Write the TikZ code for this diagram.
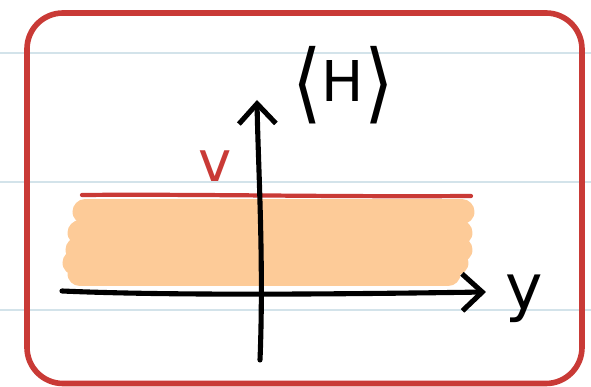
\documentclass[tikz,border=0pt]{standalone}
\usepackage{graphicx}
\usepackage{fontspec}
\setmainfont{DejaVu Sans}
\usetikzlibrary{arrows.meta}
\definecolor{cred}{HTML}{C93A36}
\definecolor{cpeach}{HTML}{FDCB98}
\definecolor{cline}{HTML}{D3E3EA}
\tikzset{>={Straight Barb[length=4mm,width=7.4mm]},
  pen/.style={line width=2.9pt,line cap=round,line join=round},
  marker/.style={cpeach,line width=0.5cm,line cap=round},
  ruled/.style={cline,line width=1.2pt}}
\newcommand{\bigbr}[1]{\raisebox{-0.18em}{\scalebox{1.35}[1.55]{#1}}}

\begin{document}
\begin{tikzpicture}
\useasboundingbox (0,0) rectangle (11.82,7.74);

% ===== notebook paper =====
\draw[ruled] (0,6.68) -- (11.82,6.68);
\draw[ruled] (0,4.1) -- (11.82,4.1);
\draw[ruled] (0,1.54) -- (11.82,1.54);

% ===== frame =====
\draw[cred,line width=3.2pt,rounded corners=0.72cm] (0.54,0.07) rectangle (11.64,7.48);

% ===== shaded band below v =====
\draw[marker] (1.7,3.5) -- (9.24,3.5);
\draw[marker] (1.6,3.08) -- (9.2,3.08);
\draw[marker] (1.56,2.74) -- (9.2,2.74);
\draw[marker] (1.5,2.48) -- (9.12,2.48);
\draw[marker] (1.6,2.26) -- (8.96,2.26);

% level v
\draw[cred,pen,line width=2.4pt] (1.64,3.84) .. controls (4,3.86) and (6.5,3.8) .. (9.42,3.82);
\node[cred,font=\fontsize{32}{32}\selectfont,anchor=base] (vlabel) at (4.3,4.1) {v};

% ===== axes =====
\coordinate (ybot) at (5.2,0.54);
\coordinate (ytop) at (5.14,5.74);
\coordinate (xleft) at (1.24,1.92);
\coordinate (xright) at (9.72,1.9);
\draw[pen,->] (ybot) .. controls (5.28,2.5) and (5.16,4.5) .. (ytop);
\draw[pen,->] (xleft) .. controls (3.5,1.82) and (7,1.86) .. (xright);
\node[font=\fontsize{32}{32}\selectfont,anchor=base] (hlabel) at (6.86,5.7) {\bigbr{⟨}H\bigbr{⟩}};
\node[font=\fontsize{36}{36}\selectfont,anchor=base] (ylabel) at (10.48,1.54) {y};

\end{tikzpicture}
\end{document}
